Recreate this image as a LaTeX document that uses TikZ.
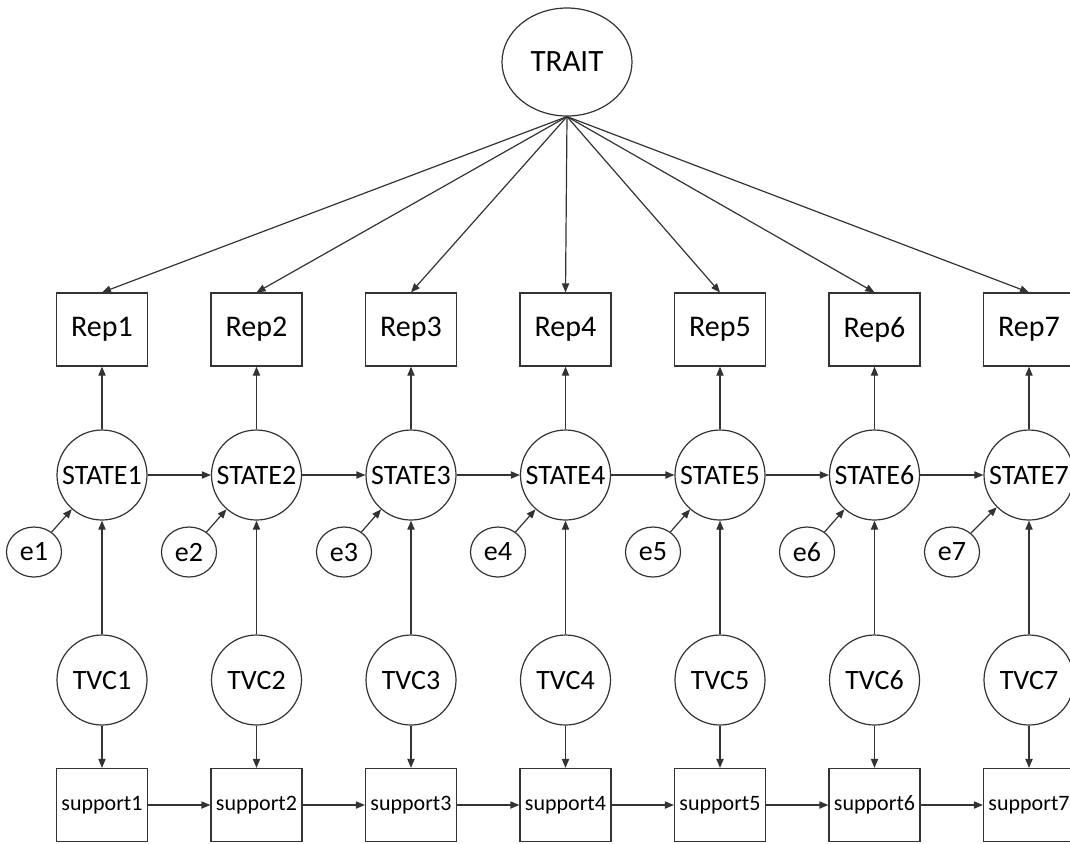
\documentclass[tikz,border=0pt]{standalone}
\usepackage{fontspec}
\setmainfont{Carlito}
\usetikzlibrary{arrows.meta,shapes.geometric}
\begin{document}
\begin{tikzpicture}[x=0.5pt,y=-0.5pt,
  line/.style={draw=black!80,line width=0.6pt},
  arr/.style={line,-{Triangle[length=4.5pt,width=3.6pt]}},
  rbox/.style={draw=black!80,line width=0.6pt,minimum width=45.5pt,minimum height=36.5pt,inner sep=0pt,font=\fontsize{15}{18}\selectfont},
  sbox/.style={draw=black!80,line width=0.6pt,minimum width=45.5pt,minimum height=36.5pt,inner sep=0pt,font=\fontsize{11}{13}\selectfont},
  circ/.style={draw=black!80,line width=0.6pt,circle,minimum size=45pt,inner sep=0pt,font=\fontsize{14}{17}\selectfont},
  err/.style={draw=black!80,line width=0.6pt,ellipse,minimum width=27.5pt,minimum height=25pt,inner sep=0pt,font=\fontsize{14}{17}\selectfont},
  trt/.style={draw=black!80,line width=0.6pt,ellipse,minimum width=65pt,minimum height=54pt,inner sep=0pt,font=\fontsize{15.5}{18}\selectfont}]
\useasboundingbox (0,0) rectangle (1070,843);
\node[trt] (trait) at (567,62) {TRAIT};
\foreach \i/\ex in {1/34,2/189,3/344,4/498,5/653,6/807,7/952}{
  \pgfmathsetmacro{\xx}{102+154.5*(\i-1)}
  \node[rbox] (rep\i) at (\xx,329.5) {Rep\i};
  \node[circ] (st\i) at (\xx,475) {STATE\i};
  \node[err] (e\i) at (\ex,552) {e\i};
  \node[circ] (tvc\i) at (\xx,680) {TVC\i};
  \node[sbox] (sup\i) at (\xx,805) {support\i};
  \draw[arr] (trait.south) -- (rep\i.north);
  \draw[arr] (st\i) -- (rep\i);
  \draw[arr] (e\i) -- (st\i);
  \draw[arr] (tvc\i) -- (st\i);
  \draw[arr] (tvc\i) -- (sup\i);
}
\foreach \i/\j in {1/2,2/3,3/4,4/5,5/6,6/7}{
  \draw[arr] (st\i) -- (st\j);
  \draw[arr] (sup\i) -- (sup\j);
}
\end{tikzpicture}
\end{document}
